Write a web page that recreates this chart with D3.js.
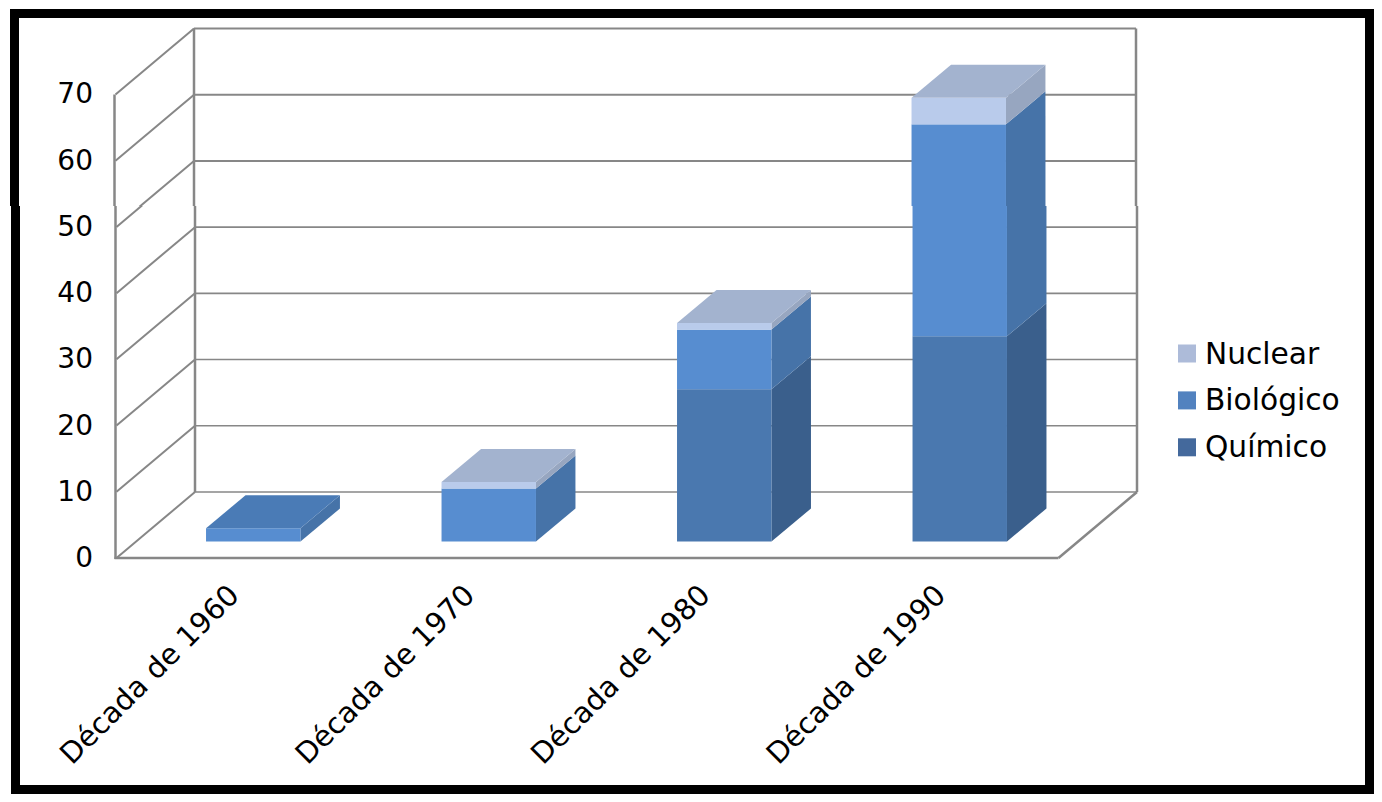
<!DOCTYPE html>
<html><head><meta charset="utf-8">
<script src="https://cdn.jsdelivr.net/npm/d3@7"></script>
<style>html,body{margin:0;padding:0;background:#fff}svg{display:block}text{font-family:"DejaVu Sans";fill:#000}</style>
</head><body><svg id="c" width="1382" height="802"></svg>
<script>
const categories = ["Década de 1960","Década de 1970","Década de 1980","Década de 1990"];
const seriesNames = ["Químico","Biológico","Nuclear"];
const quimico = [0,0,23,31];
const biologico = [2,8,9,32];
const nuclear = [0,1,1,4];
const yTicks = [0,10,20,30,40,50,60,70];
const frontColors = ["#4a78af","#578dd0","#b9cbeb"];
const sideColors = ["#3a5f8c","#4673a8","#97a6c0"];
const topColors = ["#4a78af","#4a7bb6","#a3b3cf"];
const legendColors = ["#44699c","#5282bf","#adbbd9"];
const values = [quimico,biologico,nuclear];

const svg = d3.select("#c");
const x = d3.scaleBand().domain(categories).range([115.5,1057.5]);
const y = d3.scaleLinear().domain([0,70]).range([558,94.5]);
const wallDx = 78.5, wallDy = 66;
const barDx = 39.5, barDy = 33, barInX = 19, barInY = 16.5;
const barW = x.bandwidth()*0.401;
const grey = "#878787";
const seam = 206;
const defs = svg.append("defs");
defs.append("clipPath").attr("id","upper").append("rect").attr("x",0).attr("y",0).attr("width",1382).attr("height",seam);
defs.append("clipPath").attr("id","lower").append("rect").attr("x",0).attr("y",seam).attr("width",1382).attr("height",802-seam);
const pts = a => a.map(p=>p.join(",")).join(" ");

function drawMarks(g, gridW){
  yTicks.forEach(t=>{
    const yy=y(t);
    g.append("line").attr("x1",x.range()[0]).attr("y1",yy).attr("x2",x.range()[0]+wallDx).attr("y2",yy-wallDy).attr("stroke",grey).attr("stroke-width",2);
    g.append("line").attr("x1",x.range()[0]+wallDx).attr("y1",yy-wallDy).attr("x2",x.range()[1]+wallDx).attr("y2",yy-wallDy).attr("stroke",grey).attr("stroke-width",gridW);
  });
  const L=x.range()[0],R=x.range()[1];
  g.append("line").attr("x1",L-1).attr("y1",y(70)).attr("x2",L-1).attr("y2",y(0)+1).attr("stroke",grey).attr("stroke-width",2.5);
  g.append("line").attr("x1",L+wallDx).attr("y1",y(70)-wallDy).attr("x2",L+wallDx).attr("y2",y(0)-wallDy).attr("stroke",grey).attr("stroke-width",2.5);
  g.append("line").attr("x1",R+wallDx).attr("y1",y(70)-wallDy).attr("x2",R+wallDx).attr("y2",y(0)-wallDy).attr("stroke",grey).attr("stroke-width",2.5);
  g.append("line").attr("x1",L-2).attr("y1",y(0)).attr("x2",R).attr("y2",y(0)).attr("stroke",grey).attr("stroke-width",2.5);
  g.append("line").attr("x1",R).attr("y1",y(0)).attr("x2",R+wallDx).attr("y2",y(0)-wallDy).attr("stroke",grey).attr("stroke-width",2.5);
  categories.forEach((c,i)=>{
    const x0=x(c)+x.bandwidth()/2-barW/2+barInX, x1=x0+barW;
    let acc=0, last=-1, topY=0;
    seriesNames.forEach((s,k)=>{
      const v=values[k][i];
      if(!v) return;
      const yb=y(acc)-barInY, yt=y(acc+v)-barInY;
      acc+=v; last=k; topY=yt;
      g.append("polygon").attr("points",pts([[x1,yb],[x1+barDx,yb-barDy],[x1+barDx,yt-barDy],[x1,yt]])).attr("fill",sideColors[k]);
      g.append("rect").attr("x",x0).attr("y",yt).attr("width",barW).attr("height",yb-yt).attr("fill",frontColors[k]);
    });
    g.append("polygon").attr("points",pts([[x0,topY],[x1,topY],[x1+barDx,topY-barDy],[x0+barDx,topY-barDy]])).attr("fill",topColors[last]);
  });
}
// The reference image has a seam at y=206: everything below sits one pixel to the right.
drawMarks(svg.append("g").attr("clip-path","url(#upper)"),2);
drawMarks(svg.append("g").attr("clip-path","url(#lower)").append("g").attr("transform","translate(1,0)"),1.6);

// frame: the left edge moves with the seam, the right edge does not
const frame=(cl,dx)=>{
  svg.append("g").attr("clip-path",cl)
   .append("rect").attr("x",14.5+dx).attr("y",13.5).attr("width",1355-dx).attr("height",776)
   .attr("fill","none").attr("stroke","#000").attr("stroke-width",9);
};
frame("url(#upper)",0); frame("url(#lower)",1);

// axes
const yAxis=svg.append("g").attr("transform","translate(100,-0.5)").call(d3.axisLeft(y).tickValues(yTicks).tickSize(0).tickPadding(7));
yAxis.select(".domain").remove();
yAxis.selectAll("text").style("font-size","28px").style("font-family","DejaVu Sans");
const xAxis=svg.append("g").call(d3.axisBottom(x).tickSize(0));
xAxis.select(".domain").remove();
xAxis.selectAll("g.tick").attr("transform",null);
xAxis.selectAll("text").attr("x",null).attr("y",null).attr("dy",null)
 .style("font-size","29px").style("font-family","DejaVu Sans").attr("text-anchor","end")
 .attr("transform",d=>`translate(${x(d)+x.bandwidth()/2+7.5},${597}) rotate(-45)`);

// legend
const legendY=d3.scalePoint().domain(["Nuclear","Biológico","Químico"]).range([353.5,447.3]);
["Químico","Biológico","Nuclear"].forEach((s,k)=>{
  svg.append("rect").attr("x",1178).attr("y",legendY(s)-9).attr("width",18).attr("height",18).attr("fill",legendColors[k]);
  svg.append("text").attr("x",1205).attr("y",legendY(s)+10).style("font-size","29.7px").text(s);
});
</script></body></html>
